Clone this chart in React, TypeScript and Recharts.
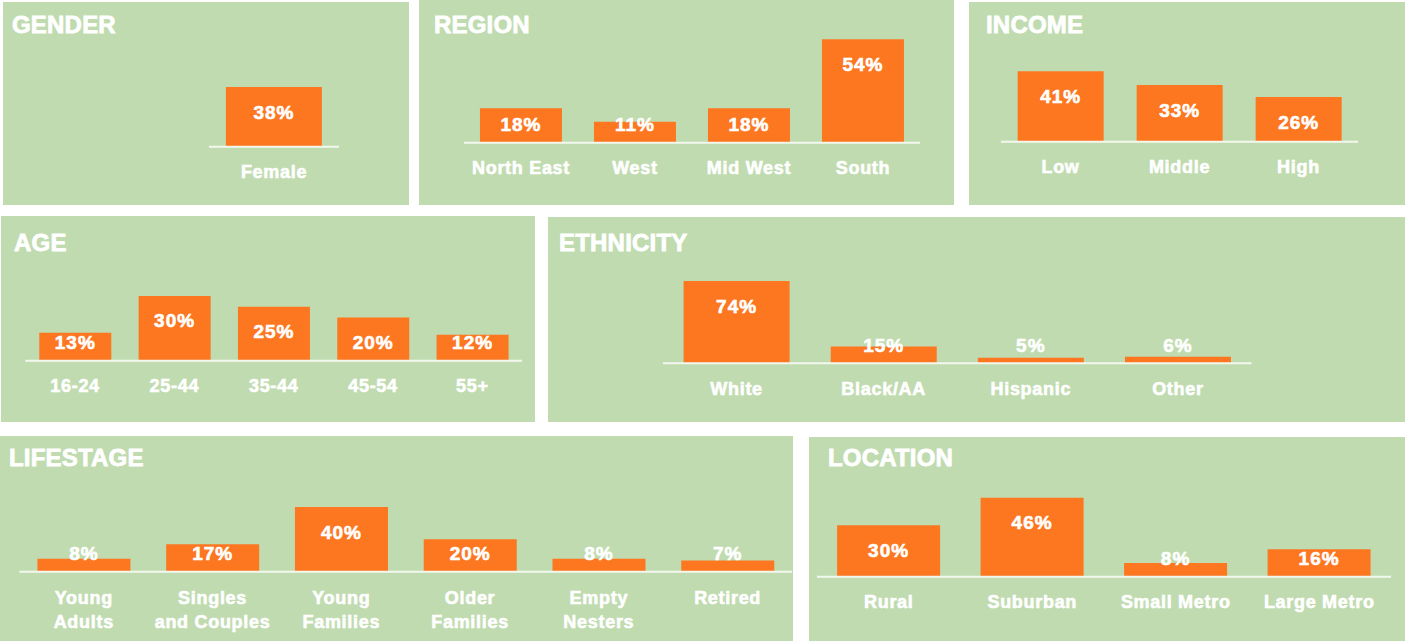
import React from 'react';
import { BarChart, Bar, XAxis, YAxis } from 'recharts';

const genderCategories = ['Female'];
const genderValues = [38];
const regionCategories = ['North East', 'West', 'Mid West', 'South'];
const regionValues = [18, 11, 18, 54];
const incomeCategories = ['Low', 'Middle', 'High'];
const incomeValues = [41, 33, 26];
const ageCategories = ['16-24', '25-44', '35-44', '45-54', '55+'];
const ageValues = [13, 30, 25, 20, 12];
const ethnicityCategories = ['White', 'Black/AA', 'Hispanic', 'Other'];
const ethnicityValues = [74, 15, 5, 6];
const lifestageCategories = ['Young Adults', 'Singles and Couples', 'Young Families', 'Older Families', 'Empty Nesters', 'Retired'];
const lifestageValues = [8, 17, 40, 20, 8, 7];
const locationCategories = ['Rural', 'Suburban', 'Small Metro', 'Large Metro'];
const locationValues = [30, 46, 8, 16];

const GREEN = '#c0dbaf';
const ORANGE = '#fd7620';
const FONT = '"Liberation Sans", Arial, Helvetica, sans-serif';
const AXIS_H = 30;

type PanelProps = {
  title: string;
  categories: string[];
  values: number[];
  box: [number, number, number, number];
  plot: { left: number; right: number; base: number; scale: number };
  titlePos: [number, number];
  wrap?: boolean;
  gap?: string;
};

const renderValueLabel = (p: any) => {
  const x = Number(p.x), y = Number(p.y), w = Number(p.width), h = Number(p.height);
  const cy = Math.min(y + 25, y + h - 18);
  return (
    <text x={x + w / 2} y={cy + 6.5} textAnchor="middle" fill="#ffffff" stroke="#ffffff" strokeWidth={0.6}
      fontSize={19} fontWeight="bold" letterSpacing={1} fontFamily={FONT}>
      {`${p.value}%`}
    </text>
  );
};

const makeTick = (wrap: boolean) => (p: any) => {
  const text = String(p.payload?.value ?? '');
  let lines = [text];
  if (wrap) {
    const i = text.indexOf(' ');
    if (i > 0) lines = [text.slice(0, i), text.slice(i + 1)];
  }
  const first = wrap ? 26 : 25;
  return (
    <g>
      {lines.map((l, k) => (
        <text key={k} x={p.x} y={Number(p.y) + first + 6.5 + k * 24} textAnchor="middle" fill="#ffffff"
          stroke="#ffffff" strokeWidth={0.6} fontSize={18} fontWeight="bold" letterSpacing={0.7} fontFamily={FONT}>
          {l}
        </text>
      ))}
    </g>
  );
};

function Panel({ title, categories, values, box, plot, titlePos, wrap = false, gap = '14%' }: PanelProps) {
  const data = categories.map((c, i) => ({ name: c, value: values[i] }));
  const [px, py, pw, ph] = box;
  const margin = {
    top: 0,
    left: plot.left - px,
    right: px + pw - plot.right,
    bottom: py + ph - plot.base - AXIS_H,
  };
  const dmax = (plot.base - py) / plot.scale;
  return (
    <div style={{ position: 'absolute', left: px, top: py, width: pw, height: ph, background: GREEN, overflow: 'hidden' }}>
      <BarChart width={pw} height={ph} data={data} margin={margin} barCategoryGap={gap}>
        <YAxis hide type="number" domain={[0, dmax]} allowDataOverflow />
        <XAxis dataKey="name" axisLine={{ stroke: '#f3f8ef', strokeWidth: 2 }} tickLine={false}
          tickSize={0} tickMargin={0} height={AXIS_H} interval={0} tick={makeTick(wrap)} />
        <Bar dataKey="value" fill={ORANGE} isAnimationActive={false} label={renderValueLabel} />
      </BarChart>
      <div style={{
        position: 'absolute', left: titlePos[0] - px, top: titlePos[1] - py - 20.3,
        fontFamily: FONT, fontWeight: 'bold', fontSize: 24, lineHeight: '24px', color: '#ffffff',
        letterSpacing: 0.2, whiteSpace: 'nowrap', WebkitTextStroke: '0.8px #ffffff',
      }}>{title}</div>
    </div>
  );
}

export default function App() {
  return (
    <div style={{ position: 'absolute', left: 0, top: 0, width: 1405, height: 641, background: '#ffffff', overflow: 'hidden' }}>
      <Panel title="GENDER" categories={genderCategories} values={genderValues}
        box={[3, 2, 406, 203]} plot={{ left: 209, right: 339, base: 146.7, scale: 1.57 }}
        titlePos={[12, 33]} gap="13%" />
      <Panel title="REGION" categories={regionCategories} values={regionValues}
        box={[419, 0, 535, 205]} plot={{ left: 464, right: 920, base: 142.7, scale: 1.915 }}
        titlePos={[434, 33]} />
      <Panel title="INCOME" categories={incomeCategories} values={incomeValues}
        box={[969, 2, 436, 203]} plot={{ left: 1001, right: 1358, base: 141.7, scale: 1.717 }}
        titlePos={[986, 33]} />
      <Panel title="AGE" categories={ageCategories} values={ageValues}
        box={[1, 216, 534, 206]} plot={{ left: 25.4, right: 522, base: 360.7, scale: 2.157 }}
        titlePos={[14, 251.7]} />
      <Panel title="ETHNICITY" categories={ethnicityCategories} values={ethnicityValues}
        box={[548, 217, 857, 205]} plot={{ left: 663, right: 1251.5, base: 363.3, scale: 1.112 }}
        titlePos={[559, 251.7]} />
      <Panel title="LIFESTAGE" categories={lifestageCategories} values={lifestageValues}
        box={[0, 436, 793, 205]} plot={{ left: 19.4, right: 792, base: 571.7, scale: 1.617 }}
        titlePos={[9, 466.7]} wrap />
      <Panel title="LOCATION" categories={locationCategories} values={locationValues}
        box={[809, 437, 596, 204]} plot={{ left: 817, right: 1391, base: 576.7, scale: 1.717 }}
        titlePos={[828, 466.7]} />
    </div>
  );
}
